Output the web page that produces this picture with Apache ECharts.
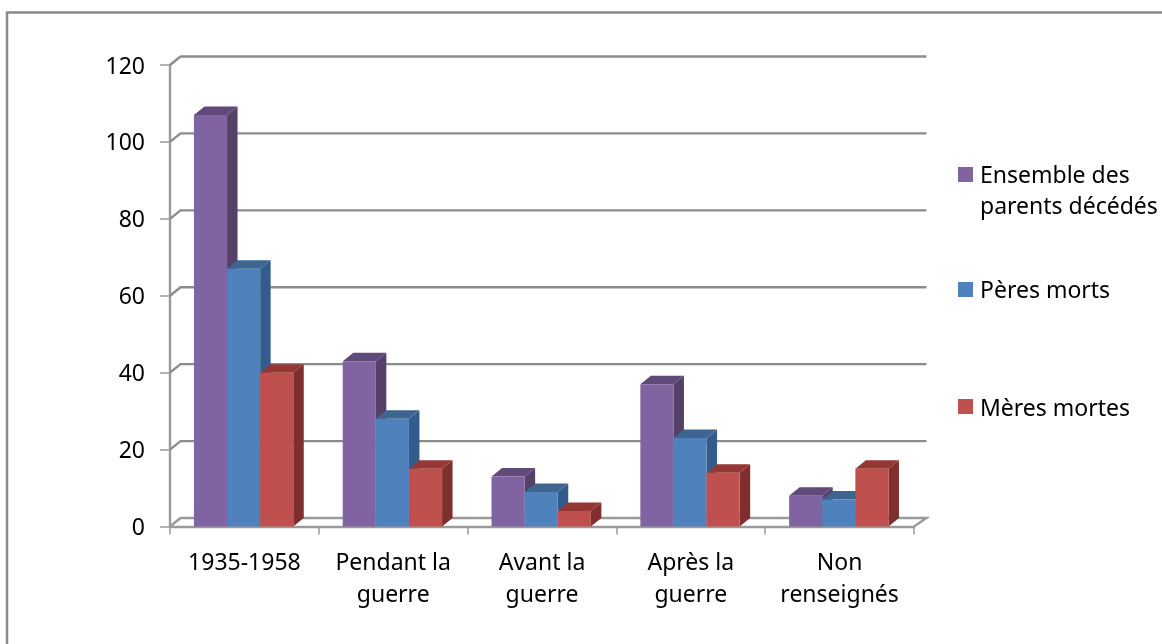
<!DOCTYPE html>
<html><head><meta charset="utf-8">
<script src="https://cdn.jsdelivr.net/npm/echarts@6/dist/echarts.min.js"></script>
<style>html,body{margin:0;padding:0;background:#fff}#c{width:1162px;height:644px}</style>
</head><body><div id="c"></div>
<script>
var categories = ['1935-1958','Pendant la\nguerre','Avant la\nguerre','Après la\nguerre','Non\nrenseignés'];
var ensemble = [107,43,13,37,8];
var peres = [67,28,9,23,7];
var meres = [40,15,4,14,15];
var yTicks = [0,20,40,60,80,100,120];
var names = ['Ensemble des\nparents décédés','Pères morts','Mères mortes'];
var values = [ensemble,peres,meres];
var palette = [
 {front:'#8064A2',side:'#544069',top:'#5F4A7A'},
 {front:'#4F81BD',side:'#335C8C',top:'#3D6590'},
 {front:'#C0504D',side:'#7F2F2E',top:'#953735'}
];
var DX=10.5, DY=-8.5, WALL='#8c8c8c', AX='#9a9a9a', FONT='Noto Sans', FS=23;
var chart = echarts.init(document.getElementById('c'),null,{renderer:'canvas'});
function wallItem(params,api){
  var v=api.value(0), y=api.coord([0,v])[1], l=params.coordSys.x, r=l+params.coordSys.width;
  var style={stroke:v===0?AX:WALL,lineWidth:2.4,fill:null};
  return {type:'polyline',shape:{points:[[l,y],[l+DX,y+DY],[r+DX+2,y+DY]].concat(v===0?[[r,y]]:[])},style:style,silent:true};
}
function barSeries(si){
  return {
    name:names[si],type:'custom',coordinateSystem:'cartesian2d',z:3+si,
    itemStyle:{color:palette[si].front},
    encode:{x:0,y:1},
    data:values[si].map(function(v,i){return [i,v];}),
    renderItem:function(params,api){
      var i=api.value(0),v=api.value(1);
      var c=api.coord([i,v]),b=api.coord([i,0]),band=api.size([1,0])[0];
      var w=band*0.2225;
      var x=c[0]-w*1.5+w*si-0.8,y=c[1],yb=b[1];
      var col=palette[si];
      return {type:'group',silent:true,children:[
        {type:'polygon',shape:{points:[[x+w,y],[x+w+DX,y+DY],[x+w+DX,yb+DY],[x+w,yb]]},style:{fill:col.side}},
        {type:'polygon',shape:{points:[[x,y],[x+DX,y+DY],[x+w+DX,y+DY],[x+w,y]]},style:{fill:col.top}},
        {type:'rect',shape:{x:x,y:y,width:w,height:yb-y},style:{fill:col.front}}
      ]};
    }
  };
}
function richStyle(top,left){
  return {fontFamily:FONT,fontSize:FS,color:'#000',lineHeight:31,padding:[top,0,0,left]};
}
function lines(prefix,n){
  return prefix+n.split('\n').map(function(s){return '{a|'+s+'}';}).join('\n');
}
var legendBase={orient:'vertical',icon:'rect',itemWidth:15,itemHeight:15,itemGap:0,left:958,padding:0,selectedMode:false,
  textStyle:{fontFamily:FONT,fontSize:FS,color:'#000',lineHeight:31,rich:{a:richStyle(4,2)}},
  formatter:function(n){return lines('',n);}};
var legendLow=Object.assign({},legendBase,{textStyle:{fontFamily:FONT,fontSize:FS,color:'#000',lineHeight:31,rich:{a:richStyle(6,2)}}});
chart.setOption({
  animation:false,backgroundColor:'#fff',
  grid:{left:170,top:65,width:744,height:461.5,containLabel:false},
  xAxis:{type:'category',data:categories,boundaryGap:true,
    axisLine:{onZero:true,lineStyle:{color:AX,width:2.4}},
    axisTick:{show:true,length:8,alignWithLabel:false,lineStyle:{color:AX,width:1.5}},
    axisLabel:{interval:0,fontFamily:FONT,fontSize:FS,color:'#000',lineHeight:32,margin:21},
    splitLine:{show:false}},
  yAxis:{type:'value',min:0,max:120,interval:20,
    axisLine:{show:true,lineStyle:{color:AX,width:2.4}},
    axisTick:{show:true,length:10,lineStyle:{color:AX,width:1.5}},
    axisLabel:{fontFamily:FONT,fontSize:FS,color:'#000',margin:25,formatter:'{a|{value}}',rich:{a:richStyle(4,0)}},
    splitLine:{show:false}},
  legend:[
    Object.assign({},legendBase,{data:[names[0]],top:128,formatter:function(n){return lines('{a| }\n',n);}}),
    Object.assign({},legendBase,{data:[names[1]],top:274}),
    Object.assign({},legendLow,{data:[names[2]],top:391})
  ],
  graphic:[{type:'polyline',z:0,silent:true,shape:{points:[[7,644],[7,12.5],[1162,12.5]]},style:{fill:null,stroke:'#8a8a8a',lineWidth:2.5}}],
  series:[{name:'walls',type:'custom',coordinateSystem:'cartesian2d',z:1,silent:true,
    encode:{y:0},data:yTicks.map(function(t){return [t];}),renderItem:wallItem}]
    .concat([0,1,2].map(barSeries))
});
</script></body></html>
